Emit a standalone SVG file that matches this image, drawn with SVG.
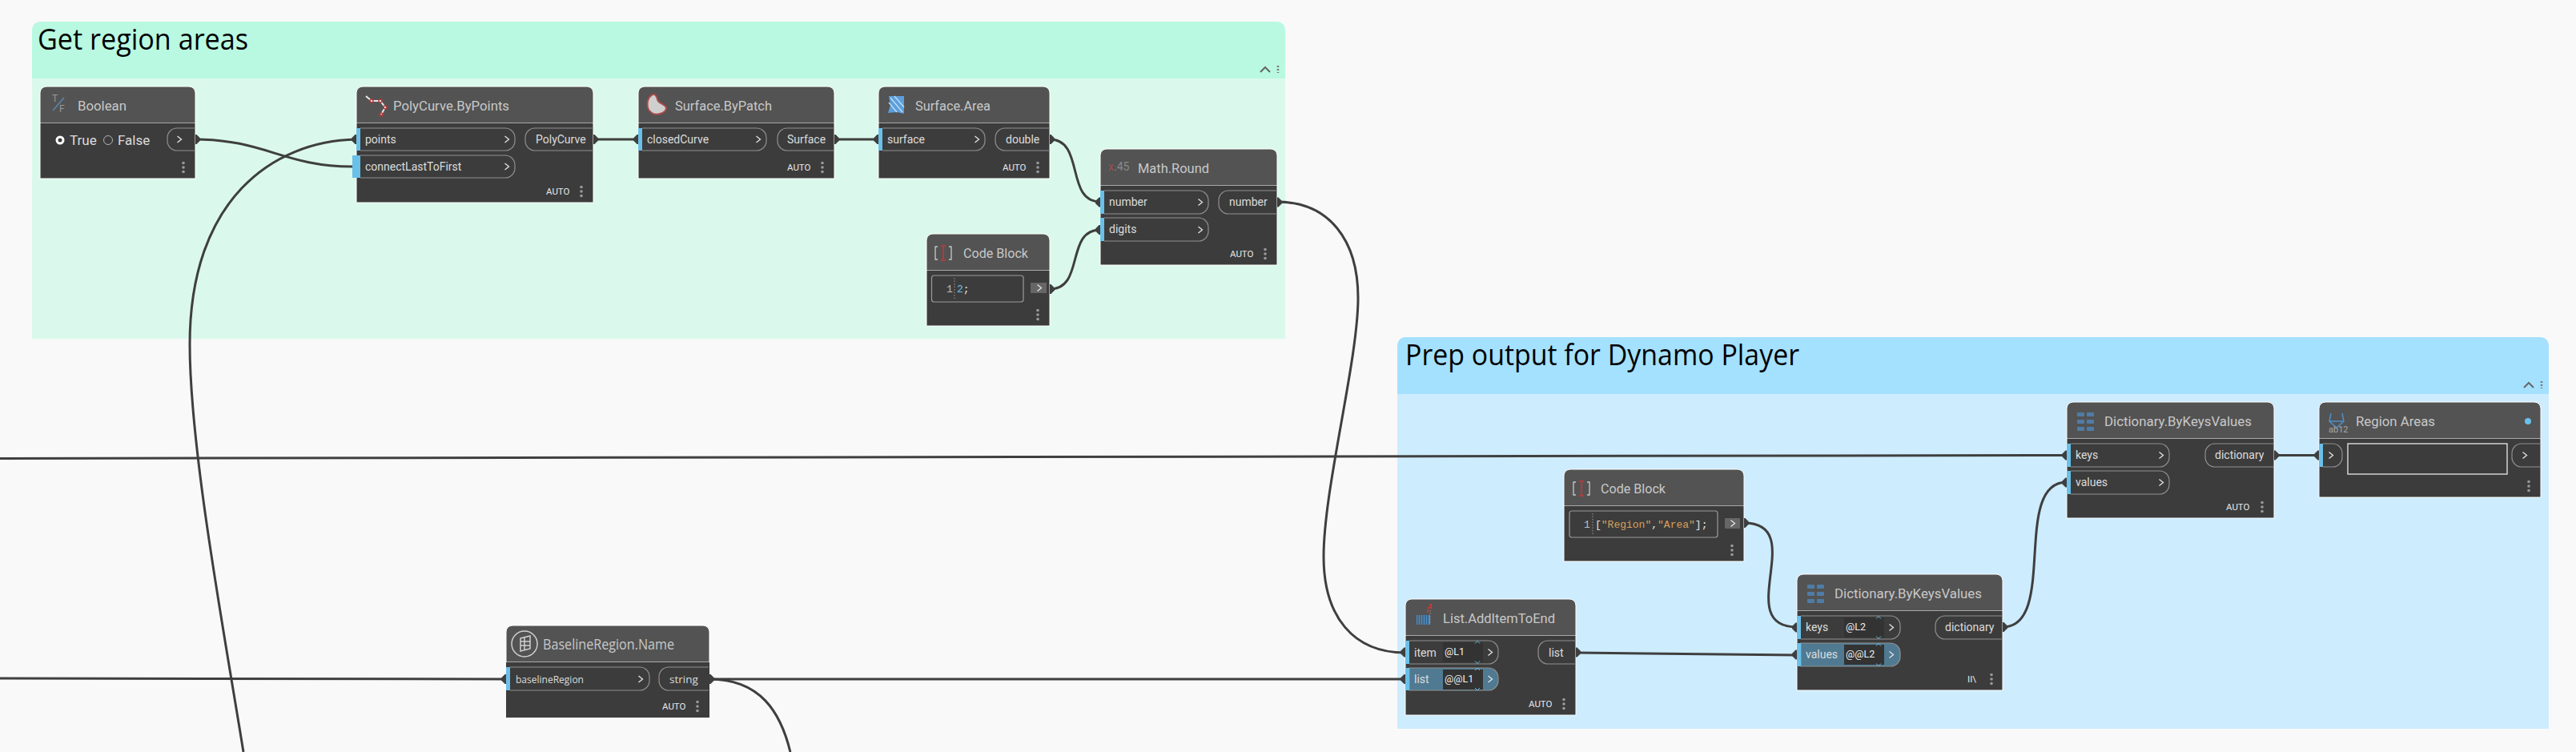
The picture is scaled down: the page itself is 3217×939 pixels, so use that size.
<svg xmlns="http://www.w3.org/2000/svg" width="3217" height="939" viewBox="0 0 3217 939">
<style>
text{font-family:Roboto,"Liberation Sans",sans-serif}
.gt{font-family:"Open Sans","Noto Sans",sans-serif;font-size:36px;fill:#000}
.h{fill:#535353;stroke:#fff;stroke-width:1}
.b{fill:#3c3c3c}
.edge{fill:none;stroke:#fff;stroke-width:1}
.t{font-size:17px;fill:#c8c8c8}
.o{font-family:"Open Sans",Roboto,sans-serif}
.p{font-size:14px;fill:#dcdcdc}
.a{font-size:11.5px;fill:#e8e8e8}
.l{font-size:12.5px;fill:#f0f0f0}
.m{font-family:"Liberation Mono",monospace;font-size:13px;fill:#bdbdbd}
.pill{fill:none;stroke:#8f8f8f;stroke-width:1.2}
.bar{fill:#6ac0e8}
.d{fill:#9a9a9a}
.w{fill:none;stroke:#3f3f3f;stroke-width:3}
.k{fill:#3f3f3f}
.cv{fill:none;stroke:#e4e4e4;stroke-width:1.3}
.lv{fill:#333}
.ud{fill:none;stroke:#6ac0e8;stroke-width:1}
.box{fill:none;stroke:#9a9a9a;stroke-width:1.2}
.dot{stroke:#9a9a9a;stroke-width:1;stroke-dasharray:1.5 2}
</style>
<defs>
<g id="dots"><circle cy="-5.5" r="1.8" class="d"/><circle r="1.8" class="d"/><circle cy="5.5" r="1.8" class="d"/></g>
<path id="po" d="M0-6H1.5L6-1.5V1.5L1.5 6H0Z" class="k"/>
<path id="pi" d="M0-6H-1.5L-6-1.5V1.5L-1.5 6H0Z" class="k"/>
<path id="cv" d="M-2.5-4L2.5 0L-2.5 4" class="cv"/>
<path id="ud" d="M-3-11L0-14L3-11M-3 11L0 14L3 11" class="ud"/>
<g id="cb"><path d="M-7-8H-10V8H-7M7-8H10V8H7" fill="none" stroke="#c8c8c8" stroke-width="1.3"/><path d="M-3-9H3M0-9V9M-3 9H3" fill="none" stroke="#b5393c" stroke-width="2"/></g>
<g id="dict" fill="#4f7ca6"><rect x="0" y="0" width="9" height="5" rx="1"/><rect x="12" y="0" width="9" height="5" rx="1"/><rect x="0" y="9" width="9" height="5" rx="1"/><rect x="12" y="9" width="9" height="5" rx="1"/><rect x="0" y="18" width="9" height="5" rx="1"/><rect x="12" y="18" width="9" height="5" rx="1"/></g>
<g id="sc"><circle r="2" fill="none" stroke="#b5393c" stroke-width="1.5"/></g>
</defs>
<rect width="3217" height="939" fill="#f9f9f9"/>

<g id="group-get-region-areas">
<path d="M40 98V37a10 10 0 0 1 10-10H1595a10 10 0 0 1 10 10V98Z" fill="#b9f9e1"/>
<rect x="40" y="98" width="1565" height="325" fill="#daf9ec"/>
<text x="47" y="62" class="gt" textLength="263" lengthAdjust="spacingAndGlyphs">Get region areas</text>
<path d="M1574 90L1580 84L1586 90" fill="none" stroke="#666" stroke-width="2"/>
<path d="M1596 82V91" stroke="#777" stroke-width="2.5" stroke-dasharray="2 2"/>
</g>
<g id="group-prep-output">
<path d="M1745 492V431a10 10 0 0 1 10-10H3173a10 10 0 0 1 10 10V492Z" fill="#a4e1ff"/>
<rect x="1745" y="492" width="1438" height="418" fill="#cdecfe"/>
<text x="1755" y="456" class="gt" textLength="492" lengthAdjust="spacingAndGlyphs">Prep output for Dynamo Player</text>
<path d="M3152 484L3158 478L3164 484" fill="none" stroke="#666" stroke-width="2"/>
<path d="M3174 476V485" stroke="#777" stroke-width="2.5" stroke-dasharray="2 2"/>
</g>

<g id="connectors">
<path class="w" d="M0 572.500L2581 568.500"/>
<path class="w" d="M0 847L632 848"/>
<path class="w" d="M886 848L1755 848"/>
<path class="w" d="M886 848C950 848 975 890 987 939"/>
<path class="w" d="M445 174C340 176 237 250 237 430C237 560 280 790 304 939"/>
<path class="w" d="M244 174C330 174 355 208 440 208"/>
<path class="w" d="M741 174H797"/>
<path class="w" d="M1042 174H1097"/>
<path class="w" d="M1311 174C1355 174 1330 252 1374 252"/>
<path class="w" d="M1311 361C1355 361 1330 287 1374 287"/>
<path class="w" d="M1595 252C1660 252 1696 300 1696 372C1696 450 1653 610 1653 695C1653 770 1690 815 1755 815"/>
<path class="w" d="M1968 815L2244 818"/>
<path class="w" d="M2178 653C2260 653 2162 783 2244 783"/>
<path class="w" d="M2501 783C2570 783 2512 602 2581 602"/>
<path class="w" d="M2840 568.500H2896"/>
</g>

<g id="node-boolean">
<path class="h" d="M50 154V116a8 8 0 0 1 8-8H236a8 8 0 0 1 8 8V154Z"/>
<rect class="b" x="50" y="154" width="194" height="69"/>
<path class="edge" d="M50 154V223H244V154"/>
<text x="65" y="127" font-size="12" fill="#999">T</text><text x="74" y="140" font-size="12" fill="#999">F</text><path d="M66 138L80 122" stroke="#5a8ab0" stroke-width="1.5"/>
<text x="97" y="138" class="t" textLength="61" lengthAdjust="spacingAndGlyphs">Boolean</text>
<circle cx="75" cy="175" r="4" fill="none" stroke="#fff" stroke-width="3"/>
<text x="87" y="181" font-size="17" fill="#dcdcdc">True</text>
<circle cx="135" cy="175" r="5.500" fill="none" stroke="#b0b0b0" stroke-width="1"/>
<text x="147" y="181" font-size="17" fill="#dcdcdc">False</text>
<path class="pill" d="M244 160H221a12 12 0 0 0-12 12V176a12 12 0 0 0 12 12H244"/>
<use href="#cv" x="224" y="174"/>
<use href="#dots" x="229" y="209"/>
<use href="#po" x="244" y="174"/>
</g>

<g id="node-polycurve-bypoints">
<path class="h" d="M445 154V116a8 8 0 0 1 8-8H733a8 8 0 0 1 8 8V154Z"/>
<rect class="b" x="445" y="154" width="296" height="99"/>
<path class="edge" d="M445 154V253H741V154"/>
<path d="M457 120L464 126H475L481 134L476 143" fill="none" stroke="#e8e8e8" stroke-width="2"/>
<use href="#sc" x="464" y="126"/><use href="#sc" x="475" y="126"/><use href="#sc" x="481" y="134"/><use href="#sc" x="476" y="143"/>
<text x="491" y="138" class="t" textLength="145" lengthAdjust="spacingAndGlyphs">PolyCurve.ByPoints</text>
<path class="pill" d="M450 160H631a12 12 0 0 1 12 12V176a12 12 0 0 1-12 12H450"/>
<path class="pill" d="M450 194H631a12 12 0 0 1 12 12V210a12 12 0 0 1-12 12H450"/>
<rect class="bar" x="445" y="160" width="5" height="28"/>
<rect class="bar" x="440" y="194" width="10" height="28"/>
<text x="456" y="179" class="p">points</text><text x="456" y="213" class="p">connectLastToFirst</text>
<use href="#cv" x="633" y="174"/><use href="#cv" x="633" y="208"/>
<path class="pill" d="M741 160H668a12 12 0 0 0-12 12V176a12 12 0 0 0 12 12H741"/>
<text x="669" y="179" class="p">PolyCurve</text>
<text x="682" y="243" class="a">AUTO</text><use href="#dots" x="726" y="239"/>
<use href="#pi" x="445" y="174"/><use href="#po" x="741" y="174"/>
</g>

<g id="node-surface-bypatch">
<path class="h" d="M797 154V116a8 8 0 0 1 8-8H1034a8 8 0 0 1 8 8V154Z"/>
<rect class="b" x="797" y="154" width="245" height="69"/>
<path class="edge" d="M797 154V223H1042V154"/>
<path d="M815 118C807 122 806 136 814 141C820 145 832 141 832 135C832 130 822 130 821 124C820 120 818 117 815 118Z" fill="#cfcfcf" stroke="#a84a4a" stroke-width="2"/>
<text x="843" y="138" class="t" textLength="121" lengthAdjust="spacingAndGlyphs">Surface.ByPatch</text>
<path class="pill" d="M802 160H945a12 12 0 0 1 12 12V176a12 12 0 0 1-12 12H802"/>
<rect class="bar" x="797" y="160" width="5" height="28"/>
<text x="808" y="179" class="p">closedCurve</text><use href="#cv" x="947" y="174"/>
<path class="pill" d="M1042 160H983a12 12 0 0 0-12 12V176a12 12 0 0 0 12 12H1042"/>
<text x="983" y="179" class="p">Surface</text>
<text x="983" y="213" class="a">AUTO</text><use href="#dots" x="1027" y="209"/>
<use href="#pi" x="797" y="174"/><use href="#po" x="1042" y="174"/>
</g>

<g id="node-surface-area">
<path class="h" d="M1097 154V116a8 8 0 0 1 8-8H1303a8 8 0 0 1 8 8V154Z"/>
<rect class="b" x="1097" y="154" width="214" height="69"/>
<path class="edge" d="M1097 154V223H1311V154"/>
<path d="M1110 120H1129V142L1120 140L1109 141L1112 131Z" fill="#5b9fdc"/>
<path d="M1112 122L1127 140M1117 120L1129 134M1110 128L1120 140" stroke="#bcd9f0" stroke-width="1.5" fill="none"/>
<text x="1143" y="138" class="t" textLength="94" lengthAdjust="spacingAndGlyphs">Surface.Area</text>
<path class="pill" d="M1102 160H1218a12 12 0 0 1 12 12V176a12 12 0 0 1-12 12H1102"/>
<rect class="bar" x="1097" y="160" width="5" height="28"/>
<text x="1108" y="179" class="p">surface</text><use href="#cv" x="1220" y="174"/>
<path class="pill" d="M1311 160H1255a12 12 0 0 0-12 12V176a12 12 0 0 0 12 12H1311"/>
<text x="1256" y="179" class="p">double</text>
<text x="1252" y="213" class="a">AUTO</text><use href="#dots" x="1296" y="209"/>
<use href="#pi" x="1097" y="174"/><use href="#po" x="1311" y="174"/>
</g>

<g id="node-math-round">
<path class="h" d="M1374 232V194a8 8 0 0 1 8-8H1587a8 8 0 0 1 8 8V232Z"/>
<rect class="b" x="1374" y="232" width="221" height="99"/>
<path class="edge" d="M1374 232V331H1595V232"/>
<text x="1384" y="213" font-size="14" fill="#8a8a8a"><tspan fill="#a05050">x</tspan>.45</text>
<text x="1421" y="216" class="t" textLength="89" lengthAdjust="spacingAndGlyphs">Math.Round</text>
<path class="pill" d="M1379 238H1497a12 12 0 0 1 12 12V255a12 12 0 0 1-12 12H1379"/>
<path class="pill" d="M1379 272H1497a12 12 0 0 1 12 12V289a12 12 0 0 1-12 12H1379"/>
<rect class="bar" x="1374" y="238" width="5" height="29"/>
<rect class="bar" x="1374" y="272" width="5" height="29"/>
<text x="1385" y="257" class="p">number</text><text x="1385" y="291" class="p">digits</text>
<use href="#cv" x="1499" y="252.500"/><use href="#cv" x="1499" y="287"/>
<path class="pill" d="M1595 238H1534a12 12 0 0 0-12 12V255a12 12 0 0 0 12 12H1595"/>
<text x="1535" y="257" class="p">number</text>
<text x="1536" y="321" class="a">AUTO</text><use href="#dots" x="1580" y="317"/>
<use href="#pi" x="1374" y="252.500"/><use href="#pi" x="1374" y="287"/><use href="#po" x="1595" y="252.500"/>
</g>

<g id="node-code-block-digits">
<path class="h" d="M1157 338V300a8 8 0 0 1 8-8H1303a8 8 0 0 1 8 8V338Z"/>
<rect class="b" x="1157" y="338" width="154" height="69"/>
<path class="edge" d="M1157 338V407H1311V338"/>
<use href="#cb" x="1178" y="316"/>
<text x="1203" y="322" class="t" textLength="81" lengthAdjust="spacingAndGlyphs">Code Block</text>
<rect class="box" x="1163.500" y="344" width="114.500" height="33" rx="3"/>
<path class="dot" d="M1192 347V374"/>
<text x="1182" y="365" class="m">1</text>
<text x="1195" y="365" class="m"><tspan style="fill:#6ac0e8">2</tspan><tspan style="fill:#e4e4e4">;</tspan></text>
<rect x="1287" y="353" width="20" height="13" fill="#666"/>
<use href="#cv" x="1298" y="359.500"/>
<use href="#dots" x="1296" y="393"/>
<use href="#po" x="1311" y="361"/>
</g>

<g id="node-baselineregion-name">
<path class="h" d="M632 827V789a8 8 0 0 1 8-8H878a8 8 0 0 1 8 8V827Z"/>
<rect class="b" x="632" y="827" width="254" height="69"/>
<circle cx="655" cy="804" r="16" fill="none" stroke="#d0d0d0" stroke-width="1.500"/>
<path d="M650 797L662 794V810L650 813ZM650 801H662M650 806H662M655 796V811" fill="none" stroke="#d0d0d0" stroke-width="1.500"/>
<text x="678" y="811" class="t o" style="font-size:18px" textLength="164" lengthAdjust="spacingAndGlyphs">BaselineRegion.Name</text>
<path class="pill" d="M637 833H799a12 12 0 0 1 12 12V850a12 12 0 0 1-12 12H637"/>
<rect class="bar" x="632" y="833" width="5" height="29"/>
<text x="644" y="853" class="p o" style="font-size:13.500px" textLength="85" lengthAdjust="spacingAndGlyphs">baselineRegion</text><use href="#cv" x="800" y="848"/>
<path class="pill" d="M885 833H835a12 12 0 0 0-12 12V850a12 12 0 0 0 12 12H885"/>
<text x="836" y="853" class="p o" style="font-size:13.500px">string</text>
<text x="827" y="886" class="a">AUTO</text><use href="#dots" x="871" y="882"/>
<use href="#pi" x="632" y="848"/><use href="#po" x="886" y="848"/>
</g>

<g id="node-code-block-keys">
<path class="h" d="M1953 632V594a8 8 0 0 1 8-8H2170a8 8 0 0 1 8 8V632Z"/>
<rect class="b" x="1953" y="632" width="225" height="69"/>
<path class="edge" d="M1953 632V701H2178V632"/>
<use href="#cb" x="1975" y="610"/>
<text x="1999" y="616" class="t" textLength="81" lengthAdjust="spacingAndGlyphs">Code Block</text>
<rect class="box" x="1960" y="638" width="185" height="33" rx="3"/>
<path class="dot" d="M1989 641V668"/>
<text x="1978" y="659" class="m">1</text>
<text x="1992" y="659" class="m" style="fill:#e4e4e4">[<tspan style="fill:#d9a05b">"Region"</tspan>,<tspan style="fill:#d9a05b">"Area"</tspan>];</text>
<rect x="2154" y="647" width="19" height="13" fill="#666"/>
<use href="#cv" x="2164" y="653.500"/>
<use href="#dots" x="2163" y="687"/>
<use href="#po" x="2178" y="653"/>
</g>

<g id="node-list-additemtoend">
<path class="h" d="M1755 794V756a8 8 0 0 1 8-8H1960a8 8 0 0 1 8 8V794Z"/>
<rect class="b" x="1755" y="794" width="213" height="99"/>
<path class="edge" d="M1755 794V893H1968V794"/>
<rect x="1769" y="768" width="17" height="12" fill="#4f8fc8"/>
<path d="M1771 768V780M1774 768V780M1777 768V780M1780 768V780M1783 768V780" stroke="#3c3c3c" stroke-width="1"/>
<path d="M1783 759H1787V755H1785M1783 761V765" stroke="#c23b3b" stroke-width="2" fill="none"/>
<path d="M1786 762V778" class="dot"/>
<text x="1802" y="778" class="t" textLength="140" lengthAdjust="spacingAndGlyphs">List.AddItemToEnd</text>
<path d="M1760 834H1859a12 12 0 0 1 12 12V850a12 12 0 0 1-12 12H1760Z" fill="#4f7a92" stroke="#8f8f8f" stroke-width="1.200"/>
<path class="pill" d="M1760 800H1859a12 12 0 0 1 12 12V817a12 12 0 0 1-12 12H1760"/>
<rect class="bar" x="1755" y="800" width="5" height="29"/>
<rect class="bar" x="1755" y="834" width="5" height="28"/>
<text x="1766" y="820" class="p">item</text><text x="1766" y="853" class="p">list</text>
<rect class="lv" x="1802" y="802" width="50" height="25"/><rect class="lv" x="1802" y="836" width="50" height="25"/>
<text x="1804" y="818" class="l">@L1</text><text x="1804" y="852" class="l">@@L1</text>
<use href="#ud" x="1845" y="814.500"/><use href="#ud" x="1845" y="848"/>
<use href="#cv" x="1861" y="814.500"/><use href="#cv" x="1861" y="848"/>
<path class="pill" d="M1968 800H1933a12 12 0 0 0-12 12V817a12 12 0 0 0 12 12H1968"/>
<text x="1934" y="820" class="p">list</text>
<text x="1909" y="883" class="a">AUTO</text><use href="#dots" x="1953" y="879"/>
<use href="#pi" x="1755" y="814.500"/><use href="#pi" x="1755" y="848"/><use href="#po" x="1968" y="814.500"/>
</g>

<g id="node-dictionary-bykeysvalues-lacing">
<path class="h" d="M2244 763V725a8 8 0 0 1 8-8H2493a8 8 0 0 1 8 8V763Z"/>
<rect class="b" x="2244" y="763" width="257" height="99"/>
<path class="edge" d="M2244 763V862H2501V763"/>
<use href="#dict" x="2257" y="730"/>
<text x="2291" y="747" class="t" textLength="184" lengthAdjust="spacingAndGlyphs">Dictionary.ByKeysValues</text>
<path d="M2249 803H2361a12 12 0 0 1 12 12V820a12 12 0 0 1-12 12H2249Z" fill="#4f7a92" stroke="#8f8f8f" stroke-width="1.200"/>
<path class="pill" d="M2249 769H2361a12 12 0 0 1 12 12V786a12 12 0 0 1-12 12H2249"/>
<rect class="bar" x="2244" y="769" width="5" height="29"/>
<rect class="bar" x="2244" y="803" width="5" height="29"/>
<text x="2255" y="788" class="p">keys</text><text x="2255" y="822" class="p">values</text>
<rect class="lv" x="2303" y="771" width="50" height="25"/><rect class="lv" x="2303" y="805" width="50" height="25"/>
<text x="2305" y="787" class="l">@L2</text><text x="2305" y="821" class="l">@@L2</text>
<use href="#ud" x="2346" y="783.500"/><use href="#ud" x="2346" y="817.500"/>
<use href="#cv" x="2362" y="783.500"/><use href="#cv" x="2362" y="817.500"/>
<path class="pill" d="M2501 769H2429a12 12 0 0 0-12 12V786a12 12 0 0 0 12 12H2501"/>
<text x="2429" y="788" class="p">dictionary</text>
<text x="2457" y="852" class="a">II\</text><use href="#dots" x="2487" y="848"/>
<use href="#pi" x="2244" y="783.500"/><use href="#pi" x="2244" y="817.500"/><use href="#po" x="2501" y="783"/>
</g>

<g id="node-dictionary-bykeysvalues">
<path class="h" d="M2581 548V510a8 8 0 0 1 8-8H2832a8 8 0 0 1 8 8V548Z"/>
<rect class="b" x="2581" y="548" width="259" height="99"/>
<path class="edge" d="M2581 548V647H2840V548"/>
<use href="#dict" x="2594" y="515"/>
<text x="2628" y="532" class="t" textLength="184" lengthAdjust="spacingAndGlyphs">Dictionary.ByKeysValues</text>
<path class="pill" d="M2586 554H2697a12 12 0 0 1 12 12V571a12 12 0 0 1-12 12H2586"/>
<path class="pill" d="M2586 588H2697a12 12 0 0 1 12 12V605a12 12 0 0 1-12 12H2586"/>
<rect class="bar" x="2581" y="554" width="5" height="29"/>
<rect class="bar" x="2581" y="588" width="5" height="29"/>
<text x="2592" y="573" class="p">keys</text><text x="2592" y="607" class="p">values</text>
<use href="#cv" x="2699" y="568.500"/><use href="#cv" x="2699" y="602.500"/>
<path class="pill" d="M2839 554H2766a12 12 0 0 0-12 12V571a12 12 0 0 0 12 12H2839"/>
<text x="2766" y="573" class="p">dictionary</text>
<text x="2780" y="637" class="a">AUTO</text><use href="#dots" x="2825" y="633"/>
<use href="#pi" x="2581" y="568.500"/><use href="#pi" x="2581" y="602.500"/><use href="#po" x="2840" y="568.500"/>
</g>

<g id="node-region-areas">
<path class="h" d="M2896 548V510a8 8 0 0 1 8-8H3165a8 8 0 0 1 8 8V548Z"/>
<rect class="b" x="2896" y="548" width="277" height="73"/>
<path class="edge" d="M2896 548V621H3173V548"/>
<path d="M2911 516L2909 526L2918 534L2927 526L2925 516M2909 526H2927" fill="none" stroke="#4f8fc8" stroke-width="1.500"/>
<text x="2908" y="540" font-size="11" fill="#a8a8a8">ab12</text>
<text x="2942" y="532" class="t" textLength="99" lengthAdjust="spacingAndGlyphs">Region Areas</text>
<circle cx="3157" cy="526" r="4" fill="#6ac0e8"/>
<path class="pill" d="M2901 554H2913a12 12 0 0 1 12 12V571a12 12 0 0 1-12 12H2901"/>
<rect class="bar" x="2896" y="554" width="5" height="29"/>
<use href="#cv" x="2911" y="568.500"/>
<rect x="2932" y="554" width="199" height="38" fill="none" stroke="#e8e8e8" stroke-width="1.300"/>
<path class="pill" d="M3172 554H3149a12 12 0 0 0-12 12V571a12 12 0 0 0 12 12H3172"/>
<use href="#cv" x="3153" y="568.500"/>
<use href="#dots" x="3158" y="607"/>
<use href="#pi" x="2896" y="568.500"/>
</g>
</svg>
